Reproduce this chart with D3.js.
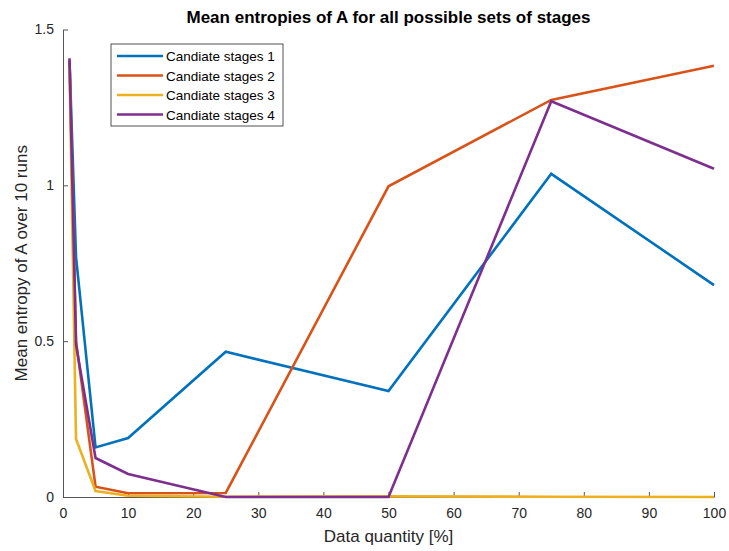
<!DOCTYPE html>
<html>
<head>
<meta charset="utf-8">
<script src="https://cdn.jsdelivr.net/npm/d3@7"></script>
<style>
  body { margin: 0; background: #fff; }
  text { font-family: "Liberation Sans", Arial, sans-serif; }
</style>
</head>
<body>
<div id="chart"></div>
<script>
const quantities = [1, 2, 5, 10, 25, 50, 75, 100];
const stages1 = [1.40, 0.77, 0.159, 0.189, 0.466, 0.34, 1.037, 0.68];
const stages2 = [1.40, 0.50, 0.033, 0.012, 0.013, 0.997, 1.274, 1.384];
const stages3 = [1.38, 0.186, 0.019, 0.004, 0.001, 0.002, 0.001, 0.0];
const stages4 = [1.408, 0.488, 0.125, 0.074, 0.0, 0.0, 1.27, 1.053];
const seriesNames = ["Candiate stages 1", "Candiate stages 2", "Candiate stages 3", "Candiate stages 4"];
const xTicks = [0, 10, 20, 30, 40, 50, 60, 70, 80, 90, 100];
const yTicks = [0, 0.5, 1, 1.5];

const colors = ["#0072BD", "#D95319", "#EDB120", "#7E2F8E"];
const series = [stages1, stages2, stages3, stages4];

const width = 729, height = 551;
const margin = { top: 29.5, right: 15, bottom: 54, left: 63 };
const w = width - margin.left - margin.right;
const h = height - margin.top - margin.bottom;

const svg = d3.select("#chart").append("svg")
  .attr("width", width)
  .attr("height", height);

const g = svg.append("g")
  .attr("transform", `translate(${margin.left},${margin.top})`);

const X = d3.scaleLinear().domain([0, 100]).range([0, w]);
const Y = d3.scaleLinear().domain([0, 1.5]).range([h, 0]);

// axes, MATLAB style: ticks inward, no box
const axisColor = "#555";
const xAxis = g.append("g")
  .attr("transform", `translate(0,${h})`)
  .call(d3.axisBottom(X).tickValues(xTicks).tickSizeInner(-5).tickSizeOuter(0).tickPadding(11));
const yAxis = g.append("g")
  .call(d3.axisLeft(Y).tickValues(yTicks).tickFormat(d3.format("")).tickSizeInner(-5).tickSizeOuter(0).tickPadding(9));

[xAxis, yAxis].forEach((ax) => {
  ax.select(".domain").attr("stroke", axisColor);
  ax.selectAll(".tick line").attr("stroke", axisColor);
  ax.selectAll(".tick text")
    .attr("fill", "#262626")
    .style("font-size", "14px");
});

const line = d3.line()
  .x((d, i) => X(quantities[i]))
  .y((d) => Y(d));

g.selectAll("path.series")
  .data(series)
  .join("path")
  .attr("class", "series")
  .attr("fill", "none")
  .attr("stroke", (d, i) => colors[i])
  .attr("stroke-width", 2.6)
  .attr("stroke-linejoin", "miter")
  .attr("d", line);

// title + labels
svg.append("text")
  .attr("x", margin.left + w / 2)
  .attr("y", 23)
  .attr("text-anchor", "middle")
  .attr("font-weight", "bold")
  .style("font-size", "17px")
  .attr("fill", "#000")
  .text("Mean entropies of A for all possible sets of stages");

svg.append("text")
  .attr("x", margin.left + w / 2)
  .attr("y", 542)
  .attr("text-anchor", "middle")
  .style("font-size", "17px")
  .attr("fill", "#262626")
  .text("Data quantity [%]");

svg.append("text")
  .attr("transform", `translate(27,${margin.top + h / 2}) rotate(-90)`)
  .attr("text-anchor", "middle")
  .style("font-size", "17px")
  .attr("fill", "#262626")
  .text("Mean entropy of A over 10 runs");

// legend
const legend = svg.append("g").attr("transform", "translate(111,44)");
legend.append("rect")
  .attr("width", 172)
  .attr("height", 82)
  .attr("fill", "#fff")
  .attr("stroke", "#262626")
  .attr("stroke-width", 0.8);

const rows = legend.selectAll("g.row")
  .data(seriesNames)
  .join("g")
  .attr("class", "row")
  .attr("transform", (d, i) => `translate(0,${12 + i * 19.5})`);

rows.append("line")
  .attr("x1", 6).attr("x2", 52)
  .attr("stroke", (d, i) => colors[i])
  .attr("stroke-width", 2.6);

rows.append("text")
  .attr("x", 55)
  .attr("y", 5)
  .style("font-size", "13.5px")
  .attr("fill", "#000")
  .text((d) => d);
</script>
</body>
</html>
